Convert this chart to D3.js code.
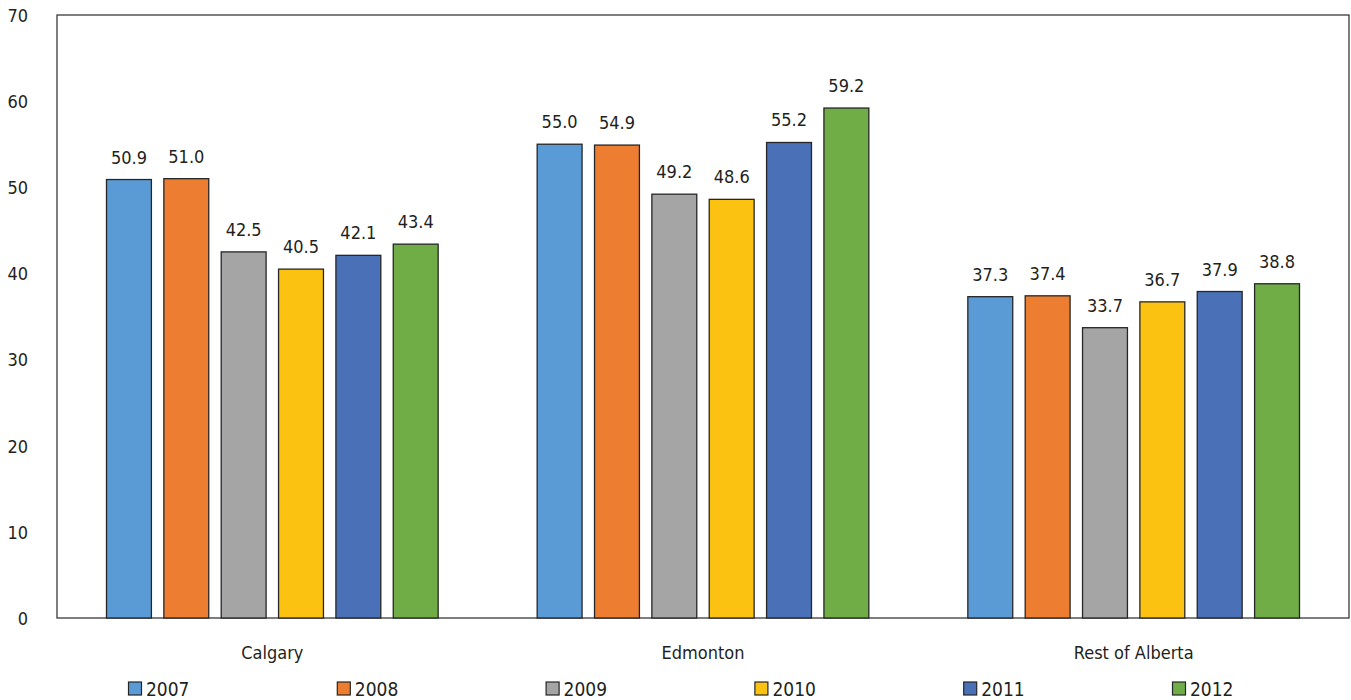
<!DOCTYPE html>
<html>
<head>
<meta charset="utf-8">
<script src="https://cdn.jsdelivr.net/npm/d3@7"></script>
<style>
  html, body { margin: 0; padding: 0; background: #fff; }
  svg { display: block; }
  text { font-family: "Liberation Sans Narrow", "Arial Narrow", "DejaVu Sans Condensed", "Liberation Sans", sans-serif; fill: #231f20; }
</style>
</head>
<body>
<svg id="chart" width="1351" height="700"></svg>
<script>
const categories = ["Calgary", "Edmonton", "Rest of Alberta"];
const years = ["2007", "2008", "2009", "2010", "2011", "2012"];
const values2007 = [50.9, 55.0, 37.3];
const values2008 = [51.0, 54.9, 37.4];
const values2009 = [42.5, 49.2, 33.7];
const values2010 = [40.5, 48.6, 36.7];
const values2011 = [42.1, 55.2, 37.9];
const values2012 = [43.4, 59.2, 38.8];
const colors = ["#5b9bd5", "#ed7d31", "#a5a5a5", "#fcc212", "#4a70b8", "#70ad47"];
const yTicks = [0, 10, 20, 30, 40, 50, 60, 70];

const seriesValues = [values2007, values2008, values2009, values2010, values2011, values2012];
const series = years.map((y, i) => ({ year: y, color: colors[i], values: seriesValues[i] }));

const svg = d3.select("#chart");
const plot = { left: 57, right: 1349, top: 15, bottom: 618 };

const y = d3.scaleLinear().domain([0, 70]).range([plot.bottom, plot.top]);
const x0 = d3.scaleBand().domain(categories).range([plot.left, plot.right]).padding(0);
const groupPad = 49.5;
const x1 = d3.scaleBand().domain(years)
  .range([groupPad, x0.bandwidth() - groupPad])
  .paddingInner(0.217).paddingOuter(0);

// Plot frame
svg.append("rect")
  .attr("x", plot.left).attr("y", plot.top)
  .attr("width", plot.right - plot.left).attr("height", plot.bottom - plot.top)
  .attr("fill", "none").attr("stroke", "#3a3a3a").attr("stroke-width", 1.3);

// Y axis (labels only)
const yAxis = d3.axisLeft(y).tickValues(yTicks).tickSize(0).tickPadding(0).tickFormat(d3.format("d"));
const yg = svg.append("g").attr("transform", `translate(${28},0)`).call(yAxis);
yg.select(".domain").remove();
yg.selectAll("text").style("font-size", "18px").attr("fill", "#231f20").attr("dy", "0.35em");

// Bars
const groups = svg.append("g").selectAll("g")
  .data(categories)
  .join("g")
  .attr("transform", d => `translate(${x0(d)},0)`);

groups.each(function(cat, ci) {
  const g = d3.select(this);
  g.selectAll("rect")
    .data(series)
    .join("rect")
    .attr("x", s => x1(s.year))
    .attr("y", s => y(s.values[ci]))
    .attr("width", x1.bandwidth())
    .attr("height", s => y(0) - y(s.values[ci]))
    .attr("fill", s => s.color)
    .attr("stroke", "#262626")
    .attr("stroke-width", 1.3);
  g.selectAll("text.val")
    .data(series)
    .join("text")
    .attr("class", "val")
    .attr("x", s => x1(s.year) + x1.bandwidth() / 2)
    .attr("y", s => y(s.values[ci]) - 16)
    .attr("text-anchor", "middle")
    .style("font-size", "18px")
    .text(s => d3.format(".1f")(s.values[ci]));
});

// Category axis labels
const xAxis = d3.axisBottom(x0).tickSize(0).tickPadding(0);
const xg = svg.append("g").attr("transform", `translate(0,${plot.bottom + 35})`).call(xAxis);
xg.select(".domain").remove();
xg.selectAll("text").style("font-size", "18px").attr("fill", "#231f20").attr("dy", "0.35em");

// Legend
const legendX = d3.scaleLinear().domain([0, 5]).range([128, 1172]);
const lg = svg.append("g").selectAll("g")
  .data(series)
  .join("g")
  .attr("transform", (s, i) => `translate(${legendX(i)},${689})`);
lg.append("rect")
  .attr("x", 0.5).attr("y", -7)
  .attr("width", 13).attr("height", 13)
  .attr("fill", s => s.color)
  .attr("stroke", "#262626").attr("stroke-width", 1.2);
lg.append("text")
  .attr("x", 18).attr("y", 0).attr("dy", "0.35em")
  .style("font-size", "19px")
  .text(s => s.year);
</script>
</body>
</html>
